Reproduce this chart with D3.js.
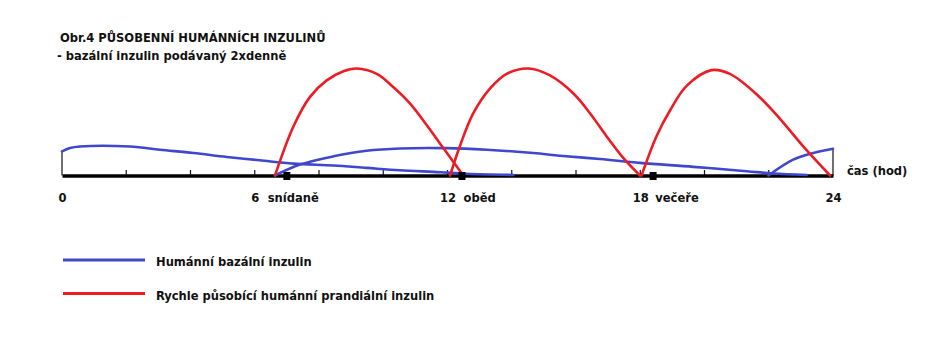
<!DOCTYPE html>
<html><head><meta charset="utf-8">
<script src="https://cdn.jsdelivr.net/npm/d3@7"></script>
<style>
html,body{margin:0;padding:0;background:#fff;}
svg text{font-family:"DejaVu Sans Condensed","DejaVu Sans",sans-serif;font-weight:bold;fill:#111;}
</style></head>
<body><svg id="c" width="927" height="342"></svg>
<script>
// ---- data (hours on x, relative insulin effect on y, 0..10) ----
const titleLines = ["Obr.4  PŮSOBENNÍ HUMÁNNÍCH INZULINŮ", " - bazální inzulin podávaný 2xdenně"];
const axisLabelHours = [0, 6, 12, 18, 24];
const minorTickHours = [2, 4, 6, 8, 10, 12, 14, 16, 18, 20, 22];
const mealNames = ["snídaně", "oběd", "večeře"];
const mealHours = [7.0, 12.45, 18.4];
const axisTitle = "čas (hod)";
const seriesNames = ["Humánní bazální inzulin", "Rychle působící humánní prandiální inzulin"];

const basal1 = [[0,2.25],[0.25,2.56],[0.56,2.71],[2.12,2.71],[3.05,2.41],[4.09,2.1],[5.13,1.73],[6.16,1.42],[7.2,1.11],[8.45,0.93],[9.48,0.71],[10.52,0.49],[11.77,0.31],[12.6,0.16],[14.05,0.05]];
const basal2 = [[6.63,0],[7.41,1.02],[8.45,1.79],[9.48,2.31],[10.52,2.53],[11.97,2.56],[13.22,2.41],[14.67,2.1],[15.5,1.85],[16.75,1.54],[17.99,1.18],[19.65,0.81],[21.31,0.4],[22.14,0.19],[23.18,0.05]];
const basal3 = [[21.99,0],[22.76,1.48],[23.39,2.1],[24,2.5]];
const prandial1 = [[6.63,0],[7.2,4.56],[7.72,7.35],[8.24,8.89],[8.76,9.75],[9.17,10],[9.8,9.5],[10.31,8.27],[10.83,6.74],[11.35,4.72],[11.87,2.56],[12.49,0]];
const prandial2 = [[12.08,0],[12.39,2.78],[12.8,5.8],[13.32,8.12],[13.84,9.5],[14.52,10],[15.19,9.35],[15.92,7.66],[16.44,5.8],[16.96,3.63],[17.47,1.64],[17.99,0]];
const prandial3 = [[18.04,0],[18.51,3.7],[18.93,6.1],[19.45,8.4],[20.22,9.85],[20.79,9.5],[21.62,7.6],[22.35,5.3],[23.08,2.7],[23.91,0]];

// ---- drawing ----
const BLUE = "#3f48cc", RED = "#ed1c24";
const svg = d3.select("#c");
const x = d3.scaleLinear().domain([0, 24]).range([62, 833]);
const y = d3.scaleLinear().domain([0, 10]).range([175.5, 68.5]);
const y0 = y(0);
const FS = "12.8px";

// titles
svg.append("text").attr("x", 60).attr("y", 42).style("font-size", FS).text(titleLines[0]);
svg.append("text").attr("x", 57).attr("y", 60).style("font-size", FS).text(titleLines[1]);

// end verticals
svg.append("line").attr("x1", x(0)).attr("x2", x(0)).attr("y1", y0).attr("y2", y(basal1[0][1]))
  .attr("stroke", "#111").attr("stroke-width", 1.2);
svg.append("line").attr("x1", x(24)).attr("x2", x(24)).attr("y1", y0).attr("y2", y(basal3[basal3.length-1][1]))
  .attr("stroke", "#111").attr("stroke-width", 1.2);

// minor ticks
svg.selectAll("line.tk").data(minorTickHours).join("line").attr("class", "tk")
  .attr("x1", d => x(d)).attr("x2", d => x(d)).attr("y1", y0).attr("y2", y0 - 5.5)
  .attr("stroke", "#111").attr("stroke-width", 1.2);

// axis baseline
const axisG = svg.append("g").attr("transform", `translate(0,${y0})`);
const ax = d3.axisBottom(x).tickValues(axisLabelHours).tickSize(0).tickPadding(0).tickFormat(d3.format("d"));
axisG.call(ax);
axisG.select(".domain").attr("stroke", "#000").attr("stroke-width", 3.5);
axisG.selectAll(".tick text").attr("y", 26).attr("dy", 0)
  .style("font-size", FS).style("font-family", '"DejaVu Sans Condensed","DejaVu Sans",sans-serif').style("font-weight", "bold").attr("fill", "#111");

// lines
const line = d3.line().x(d => x(d[0])).y(d => Math.min(y0, y(d[1]))).curve(d3.curveCatmullRom.alpha(0.5));
[basal1, basal2, basal3].forEach(s => svg.append("path").attr("d", line(s)).attr("fill", "none")
  .attr("stroke", BLUE).attr("stroke-width", 2.6).attr("stroke-linecap", "round"));
[prandial1, prandial2, prandial3].forEach(s => svg.append("path").attr("d", line(s)).attr("fill", "none")
  .attr("stroke", RED).attr("stroke-width", 2.6).attr("stroke-linecap", "round"));

// meal markers and labels
svg.selectAll("rect.meal").data(mealHours).join("rect").attr("class", "meal")
  .attr("x", d => x(d) - 3.5).attr("y", y0 - 3.5).attr("width", 7).attr("height", 8).attr("fill", "#000");
const mealLabelOffsets = [13, 16, 15];
svg.selectAll("text.meal").data(mealNames).join("text").attr("class", "meal")
  .attr("x", (d, i) => x(axisLabelHours[i + 1]) + mealLabelOffsets[i]).attr("y", y0 + 26)
  .style("font-size", FS).text(d => d);

svg.append("text").attr("x", 847).attr("y", y0 - 0.5).style("font-size", FS).text(axisTitle);

// legend
const leg = svg.selectAll("g.leg").data(seriesNames).join("g").attr("class", "leg")
  .attr("transform", (d, i) => `translate(0,${260 + i * 33.5})`);
leg.append("line").attr("x1", 63).attr("x2", 145).attr("y1", 0).attr("y2", 0)
  .attr("stroke", (d, i) => i ? RED : BLUE).attr("stroke-width", 3);
leg.append("text").attr("x", 156).attr("y", 6).style("font-size", FS).text(d => d);
</script></body></html>
